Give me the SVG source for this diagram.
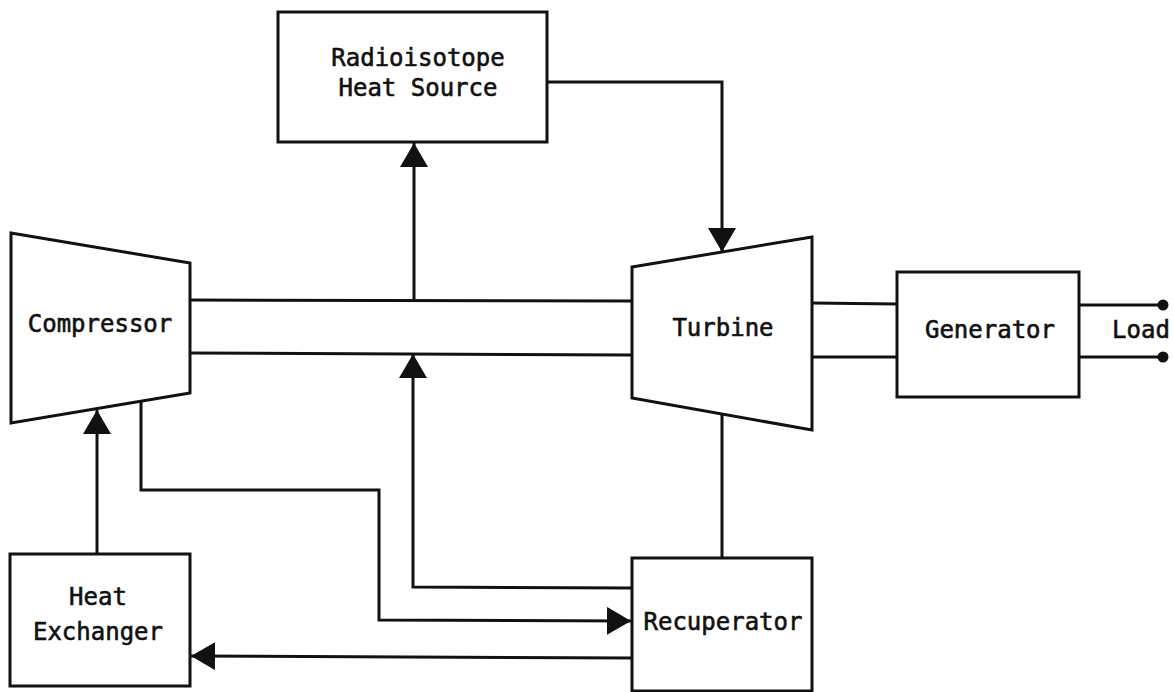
<svg xmlns="http://www.w3.org/2000/svg" width="1173" height="692" viewBox="0 0 1173 692">
<style>
.box{fill:none;stroke:#111;stroke-width:3;stroke-linejoin:miter}
.ln{fill:none;stroke:#111;stroke-width:3}
.t{font-family:"DejaVu Sans Mono","Liberation Mono",monospace;font-size:24px;fill:#111;stroke:#111;stroke-width:0.6;text-anchor:middle}
</style>
<defs>
<marker id="ah" markerUnits="userSpaceOnUse" markerWidth="26" markerHeight="30" refX="24" refY="14" orient="auto" viewBox="0 0 26 30">
<path d="M0,0 L24,14 L0,28 Z" fill="#111"/>
</marker>
</defs>
<rect width="1173" height="692" fill="#fff"/>
<g id="connectors">
<polyline class="ln" points="547,82 722,82 722,252" marker-end="url(#ah)"/>
<line class="ln" x1="414" y1="300" x2="414" y2="143" marker-end="url(#ah)"/>
<line class="ln" x1="190" y1="300" x2="632" y2="301"/>
<line class="ln" x1="190" y1="353" x2="632" y2="355"/>
<polyline class="ln" points="632,588 413,587 413,354" marker-end="url(#ah)"/>
<line class="ln" x1="722" y1="415" x2="722" y2="558"/>
<polyline class="ln" points="141,401 141,490 379,490 379,620 631,621" marker-end="url(#ah)"/>
<polyline class="ln" points="632,658 191,656" marker-end="url(#ah)"/>
<line class="ln" x1="97" y1="554" x2="97" y2="410" marker-end="url(#ah)"/>
<line class="ln" x1="812" y1="303" x2="897" y2="304"/>
<line class="ln" x1="812" y1="357" x2="897" y2="357"/>
<line class="ln" x1="1079" y1="305" x2="1162" y2="305"/>
<line class="ln" x1="1079" y1="357" x2="1162" y2="357"/>
<circle cx="1163" cy="305" r="5.5" fill="#111"/>
<circle cx="1163" cy="357" r="5.5" fill="#111"/>
</g>
<g id="radioisotope">
<rect class="box" x="278" y="12" width="269" height="130"/>
<text class="t" x="418" y="66">Radioisotope</text>
<text class="t" x="418" y="96">Heat Source</text>
</g>
<g id="compressor">
<polygon class="box" points="11,233 190,263 190,393 11,423"/>
<text class="t" x="100" y="332">Compressor</text>
</g>
<g id="turbine">
<polygon class="box" points="632,267 812,237 812,430 632,398"/>
<text class="t" x="723" y="336">Turbine</text>
</g>
<g id="generator">
<rect class="box" x="897" y="272" width="182" height="125"/>
<text class="t" x="990" y="338">Generator</text>
</g>
<g id="load">
<text class="t" x="1141" y="338">Load</text>
</g>
<g id="recuperator">
<rect class="box" x="632" y="558" width="180" height="133"/>
<text class="t" x="723" y="630">Recuperator</text>
</g>
<g id="heat-exchanger">
<rect class="box" x="10" y="554" width="180" height="132"/>
<text class="t" x="98" y="605">Heat</text>
<text class="t" x="98" y="640">Exchanger</text>
</g>
</svg>
